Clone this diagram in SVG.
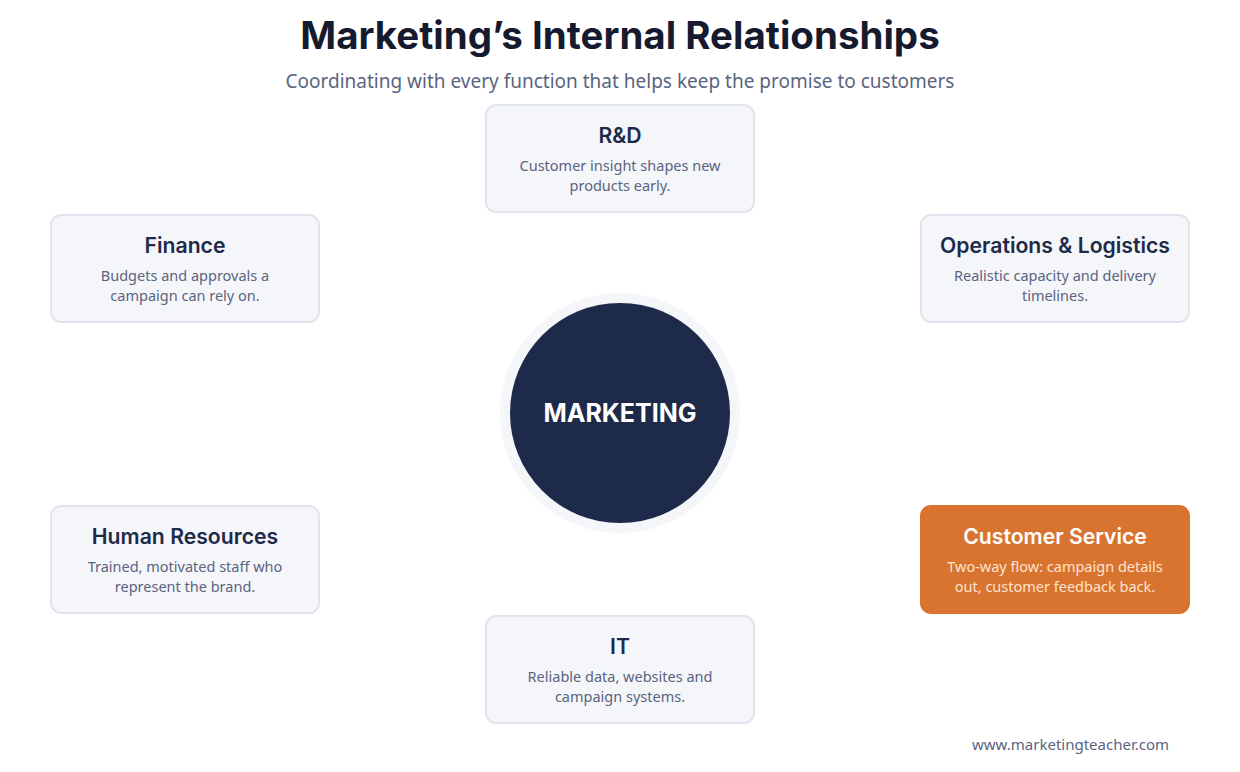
<svg xmlns="http://www.w3.org/2000/svg" width="1240" height="772" viewBox="0 0 1240 772">
<style>
.title{font-family:Inter,"Liberation Sans",sans-serif;font-weight:700;font-size:38.5px;fill:#161a2e;text-anchor:middle}
.sub{font-family:"Noto Sans","Liberation Sans",sans-serif;font-size:19px;fill:#5a6480;text-anchor:middle}
.box{fill:#f5f6f9;stroke:#e1e4ec;stroke-width:2}
.boxhi{fill:#d97330;stroke:#d97330;stroke-width:2}
.h{font-family:Inter,"Liberation Sans",sans-serif;font-weight:600;font-size:21.2px;fill:#1e2a4a;text-anchor:middle}
.d{font-family:"Noto Sans","Liberation Sans",sans-serif;font-size:14.5px;fill:#5a6480;text-anchor:middle}
.hw{fill:#ffffff}
.dw{fill:#fde3cf}
.core{font-family:Inter,"Liberation Sans",sans-serif;font-weight:700;font-size:25px;fill:#ffffff;text-anchor:middle}
.foot{font-family:"Noto Sans","Liberation Sans",sans-serif;font-size:15px;fill:#5a6480;text-anchor:end}
</style>
<rect width="1240" height="772" fill="#ffffff"/>
<text class="title" x="620" y="49">Marketing’s Internal Relationships</text>
<text class="sub" x="620" y="88">Coordinating with every function that helps keep the promise to customers</text>
<g id="connectors"></g>
<g id="marketing">
<circle cx="620" cy="413" r="120" fill="#f5f6f9"/>
<circle cx="620" cy="413" r="110" fill="#1e2a4a"/>
<text class="core" x="620" y="422">MARKETING</text>
</g>
<g id="rnd">
<rect class="box" x="486" y="105" width="268" height="107" rx="10"/>
<text class="h" x="620" y="143">R&amp;D</text>
<text class="d" x="620" y="171">Customer insight shapes new</text>
<text class="d" x="620" y="191">products early.</text>
</g>
<g id="finance">
<rect class="box" x="51" y="215" width="268" height="107" rx="10"/>
<text class="h" x="185" y="253">Finance</text>
<text class="d" x="185" y="281">Budgets and approvals a</text>
<text class="d" x="185" y="301">campaign can rely on.</text>
</g>
<g id="operations">
<rect class="box" x="921" y="215" width="268" height="107" rx="10"/>
<text class="h" x="1055" y="253">Operations &amp; Logistics</text>
<text class="d" x="1055" y="281">Realistic capacity and delivery</text>
<text class="d" x="1055" y="301">timelines.</text>
</g>
<g id="hr">
<rect class="box" x="51" y="506" width="268" height="107" rx="10"/>
<text class="h" x="185" y="544">Human Resources</text>
<text class="d" x="185" y="572">Trained, motivated staff who</text>
<text class="d" x="185" y="592">represent the brand.</text>
</g>
<g id="customer-service">
<rect class="boxhi" x="921" y="506" width="268" height="107" rx="10"/>
<text class="h hw" x="1055" y="544">Customer Service</text>
<text class="d dw" x="1055" y="572">Two-way flow: campaign details</text>
<text class="d dw" x="1055" y="592">out, customer feedback back.</text>
</g>
<g id="it">
<rect class="box" x="486" y="616" width="268" height="107" rx="10"/>
<text class="h" x="620" y="654">IT</text>
<text class="d" x="620" y="682">Reliable data, websites and</text>
<text class="d" x="620" y="702">campaign systems.</text>
</g>
<text class="foot" x="1169" y="750">www.marketingteacher.com</text>
</svg>
